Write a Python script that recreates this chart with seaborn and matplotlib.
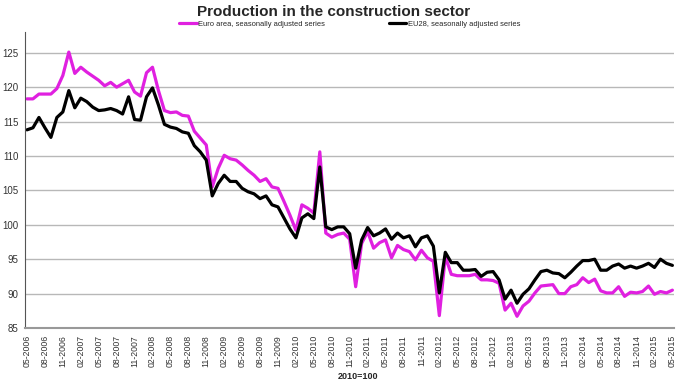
import numpy as np
import pandas as pd
import matplotlib
matplotlib.use("Agg")
import matplotlib.pyplot as plt
import seaborn as sns

# Indice de production dans la construction, 2010=100, 05-2006 -> 05-2015 (mensuel)
euro_area = [
    118.3, 118.3, 119.0, 119.0, 119.0, 119.8, 121.7, 125.1, 122.0, 122.9,
    122.2, 121.6, 121.0, 120.2, 120.7, 120.0, 120.5, 121.0, 119.3, 118.7,
    122.1, 122.9, 119.5, 116.6, 116.3, 116.4, 115.9, 115.8, 113.6, 112.6,
    111.6, 105.5, 108.2, 110.1, 109.6, 109.4, 108.7, 107.9, 107.2, 106.3,
    106.7, 105.5, 105.3, 103.4, 101.4, 99.2, 102.9, 102.4, 101.7, 110.6,
    98.8, 98.2, 98.6, 98.8, 97.9, 91.0, 97.3, 99.0, 96.6, 97.4,
    97.8, 95.2, 97.0, 96.4, 96.1, 94.9, 96.3, 95.2, 94.7, 86.8,
    95.4, 92.8, 92.6, 92.6, 92.6, 92.8, 92.0, 92.0, 91.9, 91.5,
    87.6, 88.6, 86.7, 88.2, 88.9, 90.1, 91.1, 91.2, 91.3, 90.0,
    90.0, 91.0, 91.3, 92.3, 91.6, 92.1, 90.4, 90.1, 90.1, 91.0,
    89.6, 90.2, 90.1, 90.3, 91.1, 89.9, 90.3, 90.1, 90.5,
]
eu28 = [
    113.8, 114.1, 115.6, 114.1, 112.7, 115.6, 116.4, 119.5, 117.0, 118.4,
    117.9, 117.1, 116.6, 116.7, 116.9, 116.6, 116.1, 118.6, 115.3, 115.2,
    118.6, 119.9, 117.4, 114.6, 114.2, 114.0, 113.5, 113.3, 111.5, 110.6,
    109.4, 104.2, 106.0, 107.2, 106.3, 106.3, 105.3, 104.8, 104.5, 103.8,
    104.2, 102.9, 102.6, 101.0, 99.4, 98.1, 101.0, 101.6, 100.9, 108.4,
    99.7, 99.3, 99.7, 99.7, 98.7, 93.7, 97.8, 99.6, 98.4, 98.8,
    99.4, 97.9, 98.8, 98.1, 98.4, 96.8, 98.1, 98.4, 96.9, 90.1,
    96.0, 94.5, 94.5, 93.4, 93.4, 93.5, 92.5, 93.1, 93.2, 92.0,
    89.2, 90.5, 88.6, 89.9, 90.7, 92.0, 93.2, 93.4, 93.0, 92.9,
    92.3, 93.1, 94.0, 94.8, 94.8, 95.0, 93.4, 93.4, 94.0, 94.3,
    93.7, 94.0, 93.7, 94.0, 94.4, 93.8, 95.0, 94.4, 94.1,
]
months = pd.date_range("2006-05-01", periods=len(euro_area), freq="MS")
tick_labels = months[::3].strftime("%m-%Y").tolist()
y_ticks = [85, 90, 95, 100, 105, 110, 115, 120, 125]

df = pd.DataFrame({"t": np.arange(len(months)), "ea": euro_area, "eu": eu28})

sns.set_style("white")
plt.rcParams["font.family"] = ["Liberation Sans", "DejaVu Sans"]

fig = plt.figure(figsize=(6.81, 3.83), dpi=100)
ax = fig.add_axes([0.037, 0.1436, 0.953, 0.7725])

sns.lineplot(data=df, x="t", y="ea", ax=ax, color="#E020E0", linewidth=2.3,
             label="Euro area, seasonally adjusted series")
sns.lineplot(data=df, x="t", y="eu", ax=ax, color="black", linewidth=2.3,
             label="EU28, seasonally adjusted series")

ax.set_xlim(-0.3, len(months) - 0.7)
ax.set_ylim(85, 128)
ax.set_yticks(y_ticks)
ax.set_xticks(df["t"][::3])
ax.set_xticklabels(tick_labels, rotation=90, fontsize=6.3, color="#333333")
ax.tick_params(axis="y", labelsize=7, colors="#333333", length=3, width=0.8, pad=2)
ax.tick_params(axis="x", length=3, width=0.8, pad=2, color="#888888")
ax.yaxis.grid(True, color="#b8b8b8", linewidth=1)
ax.set_axisbelow(True)
ax.set_xlabel("")
ax.set_ylabel("")
for s in ["top", "right"]:
    ax.spines[s].set_visible(False)
ax.spines["left"].set_color("#555555")
ax.spines["bottom"].set_color("#999999")
ax.spines["bottom"].set_linewidth(1.5)

ax.legend(loc="center", bbox_to_anchor=(0.5, 1.026), ncol=2, frameon=False,
          fontsize=5.4, handlelength=2.3, columnspacing=8.5, handletextpad=0.2,
          borderpad=0, borderaxespad=0)

fig.text(0.49, 0.968, "Production in the construction sector", ha="center",
         va="center", fontsize=11, fontweight="bold")
fig.text(0.525, 0.018, "2010=100", ha="center", va="center", fontsize=6.5,
         fontweight="bold")

fig.savefig("out.png", dpi=100)
